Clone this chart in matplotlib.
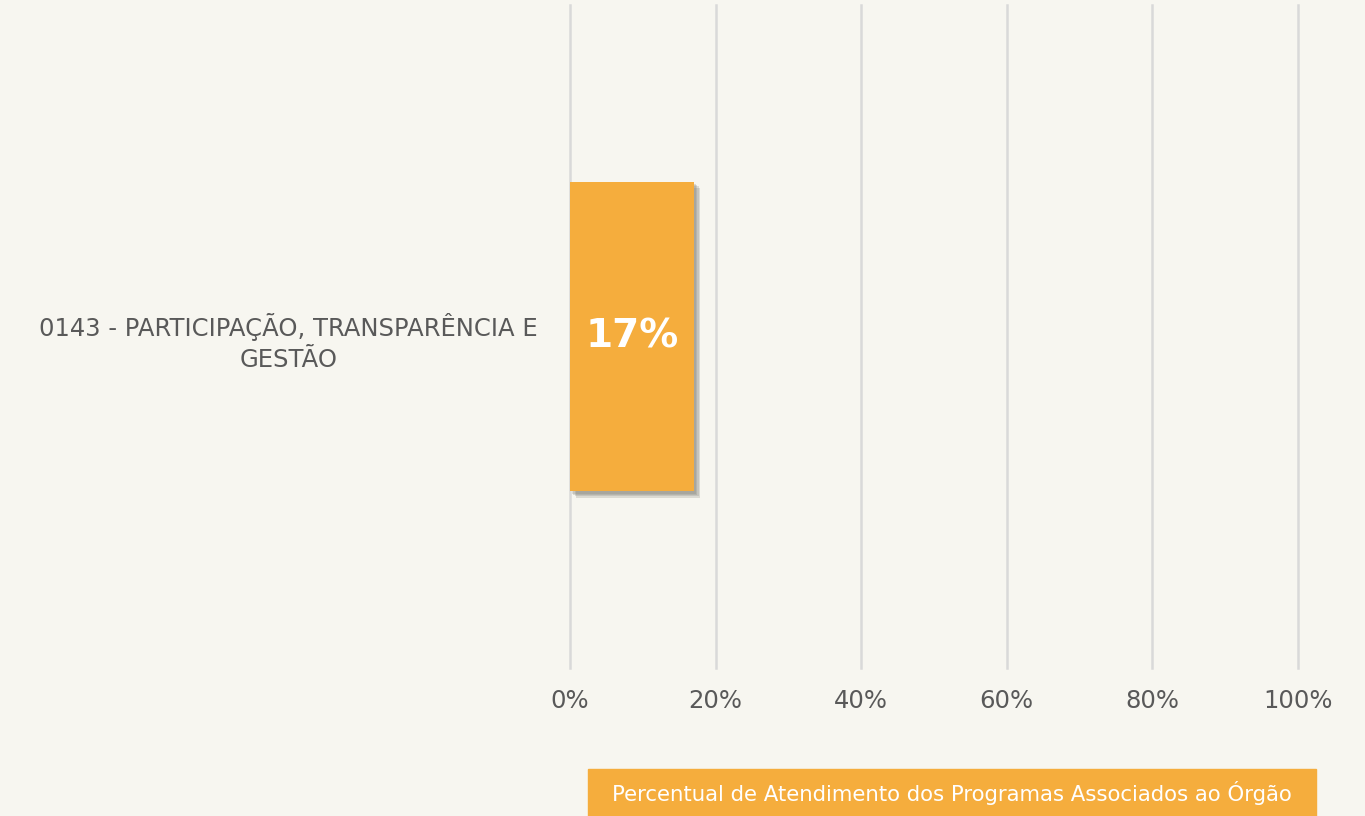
import matplotlib
matplotlib.use("Agg")
import matplotlib.pyplot as plt
import matplotlib.patheffects as pe
from matplotlib.ticker import FuncFormatter

plt.rcParams['font.family'] = ['DejaVu Sans']

# data
programs = ["0143 - PARTICIPAÇÃO, TRANSPARÊNCIA E\nGESTÃO"]
percent = [17]
ticks = [0, 20, 40, 60, 80, 100]
footer = "Percentual de Atendimento dos Programas Associados ao Órgão"

bg = "#F7F6F0"
orange = "#F5AD3D"
grey_txt = "#595959"

fig = plt.figure(figsize=(13.65, 8.16), dpi=100, facecolor=bg)
ax = fig.add_axes([570 / 1365, 1 - 668 / 816, 728 / 1365, 663 / 816])
ax.set_facecolor(bg)

bars = ax.barh(range(len(programs)), percent, height=0.4675, color=orange, zorder=3)
# soft drop shadow built from a few faint offset copies
shadow = [pe.SimplePatchShadow(offset=(d, -d), shadow_rgbFace="#7a7a70", alpha=0.22)
          for d in (1.5, 2.5, 3.5, 4.5)]
for b in bars:
    b.set_path_effects(shadow + [pe.Normal()])
    ax.text(b.get_width() / 2, b.get_y() + b.get_height() / 2, f"{b.get_width():.0f}%",
            ha="center", va="center", color="white", fontsize=28, fontweight="bold", zorder=4)

ax.set_xlim(0, 100)
ax.set_ylim(-0.5, 0.5)
ax.set_xticks(ticks)
ax.xaxis.set_major_formatter(FuncFormatter(lambda v, p: f"{v:.0f}%"))
ax.set_yticks(range(len(programs)))
ax.set_yticklabels(programs, multialignment="center", linespacing=1.35)
ax.tick_params(axis="x", length=0, pad=15, labelsize=17.5, labelcolor=grey_txt)
ax.tick_params(axis="y", length=0, pad=23, labelsize=17.5, labelcolor=grey_txt)
ax.grid(axis="x", color="#D9D9D9", linewidth=1.8, zorder=0)
for gl in ax.get_xgridlines():
    gl.set_clip_on(False)
for s in ax.spines.values():
    s.set_visible(False)

# footer legend box
fig.patches.append(plt.Rectangle((588 / 1365, 0), 728 / 1365, 47 / 816,
                                 transform=fig.transFigure, color=orange, zorder=1))
fig.text((588 + 728 / 2) / 1365, 23 / 816, footer, ha="center", va="center",
         color="white", fontsize=15.3, zorder=2)

fig.savefig("out.png", dpi=100, facecolor=bg)
